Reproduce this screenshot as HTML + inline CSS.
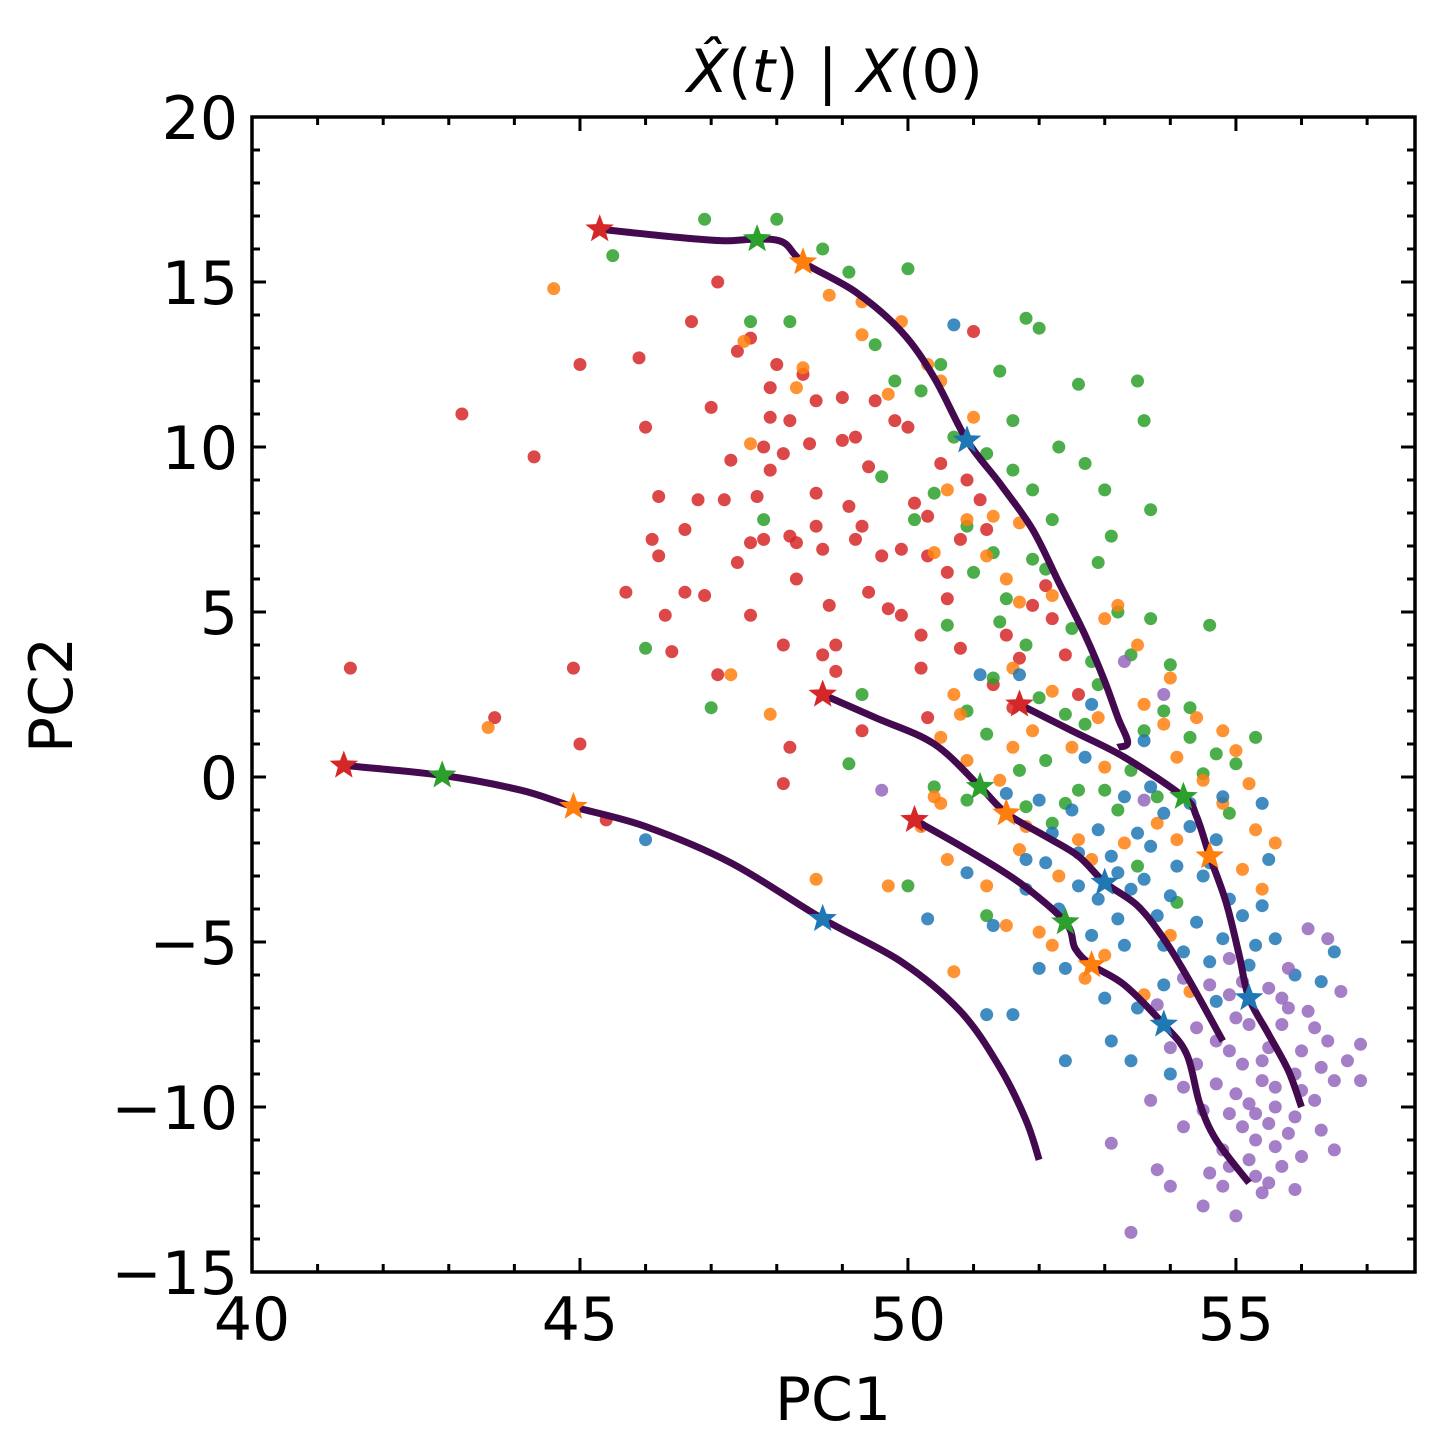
<!DOCTYPE html>
<html><head><meta charset="utf-8"><style>
body{margin:0;background:#fff;}
svg{display:block;font-family:"DejaVu Sans","Liberation Sans",sans-serif;}
</style></head><body>
<svg id="chart" width="1430" height="1450">
<g id="points"></g>
<g id="lines"></g>
<g id="stars"></g>
<rect x="252" y="117" width="1163" height="1155" fill="none" stroke="#000" stroke-width="3.5"/>
<g id="ticks"></g>
<text x="835" y="92" text-anchor="middle" font-size="60"><tspan font-style="italic">X̂</tspan>(<tspan font-style="italic">t</tspan>) | <tspan font-style="italic">X</tspan>(0)</text>
<text x="833" y="1420" text-anchor="middle" font-size="60">PC1</text>
<text x="72" y="695" text-anchor="middle" font-size="60" transform="rotate(-90 72 695)">PC2</text>
</svg>
<script>
const xTicks=[40,45,50,55];
const yTicks=[20,15,10,5,0,-5,-10,-15];
const redPts=[[41.5,3.3],[43.2,11],[44.3,9.7],[43.7,1.8],[45,12.5],[44.9,3.3],[45,1],[45.7,5.6],[45.9,12.7],[46,10.6],[46.2,8.5],[46.1,7.2],[46.2,6.7],[46.3,4.9],[46.4,3.8],[46.6,7.5],[46.7,13.8],[46.9,5.5],[47,11.2],[47.1,15],[47.2,8.4],[47.3,9.6],[47.4,12.9],[47.6,13.3],[47.6,7.1],[47.7,8.5],[47.8,10],[47.9,11.8],[47.9,10.9],[48,12.5],[48.1,9.8],[48.2,10.8],[48.2,7.3],[48.1,4],[48.3,6],[48.4,12.2],[48.5,10.1],[48.6,11.4],[48.2,0.9],[48.6,7.6],[48.8,5.2],[48.9,4],[49,10.2],[49.1,8.2],[49.2,7.2],[49.4,9.4],[49.5,11.4],[49.6,6.7],[49.7,5.1],[49.8,10.8],[50,10.6],[50.1,8.3],[50.2,4.3],[50.3,6.7],[50.5,9.5],[50.6,5.4],[50.8,7.2],[51,13.5],[51.3,2.8],[51.7,3.6],[51.9,5.2],[52.4,3.7],[52.6,2.5],[47.6,4.9],[48.9,3.2],[49.3,1.4],[50.3,1.8],[48.1,-0.2],[47.1,3.1],[46.6,5.6],[47.8,7.2],[49.2,10.3],[50.9,9],[51.2,7.5],[45.4,-1.3],[48.7,3.7],[49.4,5.6],[49.9,6.9],[50.6,6.2],[51.1,8.4],[49.9,4.9],[48.7,6.9],[49.3,7.6],[47.9,9.3],[48.3,7.1],[50.2,3.3],[51.5,4.3],[52.1,5.8],[49,11.5],[50.3,7.9],[48.6,8.6],[47.4,6.5],[46.8,8.4],[50.8,3.9],[51.6,2.1],[52.2,4.8]];
const greenPts=[[45.5,15.8],[46.9,16.9],[47.6,13.8],[48,16.9],[48.2,13.8],[48.7,16],[49.1,15.3],[49.5,13.1],[49.8,12],[50,15.4],[50.2,11.7],[50.4,8.6],[50.5,12.5],[50.7,10.3],[50.9,7.6],[51,6.2],[51.2,9.8],[51.4,12.3],[51.6,10.8],[51.8,13.9],[52,13.6],[51.6,9.3],[51.9,8.7],[52.1,6.3],[52.3,10],[52.6,11.9],[52.7,9.5],[53,8.7],[53.1,7.3],[53.5,12],[53.6,10.8],[53.7,8.1],[52.9,6.5],[52.5,4.5],[52.8,3.5],[53.2,5],[53.7,4.8],[54,3.4],[54.3,2.1],[54.6,4.6],[55.3,1.2],[51.5,5.4],[51.8,4],[51.3,3],[50.6,4.6],[50.9,2],[51.2,1.3],[52.1,0.5],[52.6,-0.4],[53.4,0.2],[54.3,1.2],[54.7,0.7],[55,0.4],[53.8,-0.6],[53.2,-1],[52.2,-1.4],[51.8,-0.9],[50.9,-0.7],[50.4,-0.3],[50,-3.3],[51.2,-4.2],[53.5,-2.7],[54.1,-3.8],[47.8,7.8],[47,2.1],[46,3.9],[49.1,0.4],[49.3,2.5],[53.9,2],[52.7,1.6],[52,2.4],[54.9,-1.1],[51.9,6.6],[52.2,7.8],[51.4,4.7],[52.9,2.8],[53.4,3.7],[52.4,1.9],[51.7,0.2],[53,-0.4],[52.4,-0.8],[53.6,1.4],[54.5,0.1],[49.6,9.1],[50.1,7.8],[51.3,6.8]];
const orangePts=[[43.6,1.5],[44.6,14.8],[47.3,3.1],[47.5,13.2],[47.6,10.1],[47.9,1.9],[48.4,12.4],[48.3,11.8],[48.8,14.6],[49.3,13.4],[49.3,14.4],[49.9,13.8],[50.3,12.5],[50.5,12],[50.6,8.7],[50.9,7.8],[51.3,7.9],[51.7,7.7],[51.2,6.7],[51.5,6],[51.7,5.3],[52.2,5.5],[53,4.8],[53.2,5.2],[53.5,4],[54,3],[53.6,2.2],[53.9,1.6],[54.4,1.8],[54.8,1.4],[55,0.8],[54.5,-0.1],[54.8,-0.8],[55.2,-0.2],[55.3,-1.6],[55.6,-2],[55.1,-2.8],[55.4,-3.4],[53.8,-1.4],[52.8,-2.5],[52.3,-3],[51.7,-2.2],[51.2,-3.3],[50.6,-2.5],[50.5,-0.8],[50.9,0.5],[51.4,-0.1],[51.9,1.4],[52.5,0.9],[53,0.3],[50.7,-5.9],[51.5,-4.5],[52.2,-5.1],[52.7,-6.1],[53,-5.4],[53.6,-6.6],[50.5,1.2],[50.7,2.5],[51.6,3.3],[52.2,2.6],[48.6,-3.1],[49.7,-3.3],[52,-4.7],[54,-4.8],[54.3,-6.5],[50.4,-0.6],[51.8,-1.5],[52.6,-1.9],[53.3,-2],[54.1,-1.9],[50.8,1.9],[51.6,0.9],[52.9,1.8],[54.1,0.6],[50.4,6.8],[51,10.9],[49.7,11.6],[50.2,-1.5]];
const bluePts=[[46,-1.9],[50.3,-4.3],[50.7,13.7],[51.7,3.1],[51.1,3.1],[52,-0.7],[52.2,-1.7],[52.5,-1],[52.6,-2.3],[52.9,-1.6],[53.1,-2.4],[53.3,-0.6],[53.5,-1.7],[53.7,-2.1],[53.9,-1.1],[54.1,-2.7],[54.3,-1.5],[54.5,-3],[54.7,-1.9],[54.9,-3.7],[55.1,-4.2],[55.3,-5.1],[55.5,-2.5],[55.6,-4.9],[55.9,-6],[56.3,-6.2],[54.2,-5.3],[54.6,-5.6],[53.8,-4.2],[53.4,-3.4],[53.2,-4.3],[52.4,-5.8],[52.4,-8.6],[53.1,-8],[53.5,-7],[53.9,-6.3],[54,-9],[52,-5.8],[51.6,-7.2],[51.2,-7.2],[51.3,-4.5],[50.9,-2.9],[51.8,-3.4],[52.7,0.6],[53.7,-0.3],[54.8,-0.6],[55.4,-0.8],[56.5,-5.3],[55.2,-5.7],[54.7,-6.8],[53.3,-5.1],[52.9,-3.7],[52.1,-2.6],[51.5,-0.5],[53.6,1.1],[52.8,2.2],[53.6,-3.1],[54,-3.6],[54.4,-4.4],[53.2,-2.9],[52.6,-3.3],[53.9,-5.1],[54.8,-4.9],[55.4,-3.9],[53,-6.7],[53.4,-8.6],[52.8,-4.8],[52.3,-4],[51.8,-2.5],[54.3,-0.8],[54.6,-2.6]];
const purplePts=[[49.6,-0.4],[53.1,-11.1],[53.4,-13.8],[53.7,-9.8],[54,-12.4],[54.2,-10.6],[54.4,-8.7],[54.5,-13],[54.6,-12],[54.8,-11.3],[54.9,-10.2],[55,-9.6],[55,-13.3],[55.1,-8.7],[55.2,-9.9],[55.3,-11],[55.4,-12.6],[55.5,-10.5],[55.5,-8.2],[55.6,-9.4],[55.7,-11.8],[55.7,-7.5],[55.8,-10.8],[55.9,-9],[56,-11.5],[56,-8.3],[56.1,-7.1],[56.2,-9.8],[56.3,-10.7],[56.4,-8],[56.5,-9.2],[56.6,-6.5],[56.7,-8.6],[56.9,-8.1],[56.9,-9.2],[56.5,-11.3],[55.2,-7.5],[54.9,-6.6],[54.7,-8],[54.4,-7.6],[54.2,-6.1],[54.9,-5.5],[55.5,-6.4],[55.8,-5.8],[56.1,-4.6],[56.4,-4.9],[53.8,-6.9],[54,-8.2],[55.3,-12.1],[55.9,-12.5],[55.6,-11.2],[54.7,-9.3],[55.8,-7],[53.3,3.5],[53.9,2.5],[53.6,-0.7],[55.1,-10.6],[55.3,-10.2],[55.4,-9.2],[55.6,-10],[55.2,-11.6],[54.8,-12.4],[55.4,-8.6],[55,-7.3],[54.6,-6.3],[55.7,-6.7],[56,-9.5],[56.3,-8.8],[55.9,-10.3],[54.9,-8.3],[54.5,-10.1],[55.1,-6.2],[53.8,-11.9],[54.2,-9.4],[56.2,-7.6],[55.5,-12.3],[54.9,-11.8]];
const line1=[[41.4,0.35],[42.9,0.05],[44.1,-0.4],[44.9,-0.9],[46,-1.5],[47.3,-2.6],[48.7,-4.3],[49.9,-5.6],[50.8,-7.1],[51.4,-8.8],[51.8,-10.4],[52,-11.6]];
const line2=[[45.3,16.6],[46.5,16.35],[47.2,16.25],[47.7,16.3],[48.1,16.2],[48.4,15.6],[49.2,14.7],[49.9,13.5],[50.4,12.1],[50.9,10.2],[51.4,8.9],[51.9,7.5],[52.3,5.9],[52.7,4.3],[53.0,2.9],[53.2,1.8],[53.35,1.05],[53.2,0.9]];
const line3=[[48.7,2.5],[49.5,1.8],[50.4,1],[51.1,-0.3],[51.5,-1.1],[52.1,-1.8],[52.6,-2.4],[53,-3.2],[53.5,-3.9],[53.9,-4.9],[54.3,-6.2],[54.8,-8]];
const line4=[[51.7,2.2],[52.5,1.4],[53.3,0.6],[54.2,-0.6],[54.4,-1.2],[54.6,-2.4],[54.85,-3.8],[55.05,-5.4],[55.2,-6.7],[55.5,-7.8],[55.8,-8.9],[56,-10]];
const line5=[[50.1,-1.3],[50.9,-2.2],[51.7,-3.2],[52.4,-4.4],[52.55,-5.2],[52.8,-5.7],[53.3,-6.3],[53.9,-7.5],[54.25,-8.4],[54.45,-9.9],[54.7,-11],[55.2,-12.3]];
const starsRed=[[41.4,0.35],[45.3,16.6],[48.7,2.5],[51.7,2.2],[50.1,-1.3]];
const starsGreen=[[42.9,0.05],[47.7,16.3],[51.1,-0.3],[54.2,-0.6],[52.4,-4.4]];
const starsOrange=[[44.9,-0.9],[48.4,15.6],[51.5,-1.1],[54.6,-2.4],[52.8,-5.7]];
const starsBlue=[[48.7,-4.3],[50.9,10.2],[53,-3.2],[55.2,-6.7],[53.9,-7.5]];

const NS='http://www.w3.org/2000/svg';
const X0=252,X1=1415,Y0=117,Y1=1272,xmin=40,xmax=57.73,ymin=-15,ymax=20;
function sx(v){return X0+(v-xmin)/(xmax-xmin)*(X1-X0);}
function sy(v){return Y1-(v-ymin)/(ymax-ymin)*(Y1-Y0);}
function mk(t,a,p){const e=document.createElementNS(NS,t);for(const k in a)e.setAttribute(k,a[k]);p.appendChild(e);return e;}
const gp=document.getElementById('points');
[[redPts,'#d62728','red'],[greenPts,'#2ca02c','green'],[orangePts,'#ff7f0e','orange'],[bluePts,'#1f77b4','blue'],[purplePts,'#9467bd','purple']].forEach(([arr,c,n])=>{
 arr.forEach(p=>{const e=mk('circle',{cx:sx(p[0]),cy:sy(p[1]),r:6.5,fill:c,'fill-opacity':0.85},gp);
 
 });
});
function smooth(L){const P=L.map(p=>[sx(p[0]),sy(p[1])]);let d='M'+P[0][0]+','+P[0][1];
 for(let i=0;i<P.length-1;i++){const p0=P[Math.max(i-1,0)],p1=P[i],p2=P[i+1],p3=P[Math.min(i+2,P.length-1)];
  const c1=[p1[0]+(p2[0]-p0[0])/6,p1[1]+(p2[1]-p0[1])/6],c2=[p2[0]-(p3[0]-p1[0])/6,p2[1]-(p3[1]-p1[1])/6];
  d+=' C'+c1[0].toFixed(1)+','+c1[1].toFixed(1)+' '+c2[0].toFixed(1)+','+c2[1].toFixed(1)+' '+p2[0].toFixed(1)+','+p2[1].toFixed(1);}
 return d;}
const gl=document.getElementById('lines');
[line1,line2,line3,line4,line5].forEach((L,i)=>{
 const e=mk('path',{d:smooth(L),fill:'none',stroke:'#440a4f','stroke-width':7,'stroke-linejoin':'round'},gl);
 
 
});
const gs=document.getElementById('stars');
function starPath(cx,cy,R){let s='';for(let i=0;i<10;i++){const r=i%2?R*0.42:R;const a=-Math.PI/2+i*Math.PI/5;s+=(i?'L':'M')+(cx+r*Math.cos(a)).toFixed(1)+','+(cy+r*Math.sin(a)).toFixed(1);}return s+'Z';}
[[starsRed,'#d62728','red'],[starsGreen,'#2ca02c','green'],[starsOrange,'#ff7f0e','orange'],[starsBlue,'#1f77b4','blue']].forEach(([arr,c,n])=>{
 arr.forEach(p=>{const e=mk('path',{d:starPath(sx(p[0]),sy(p[1]),15),fill:c},gs);
 
 });
});
const gt=document.getElementById('ticks');
for(let v=40;v<=57;v++){const x=sx(v);const L=(v%5===0)?14:8;
 mk('line',{x1:x,y1:Y1,x2:x,y2:Y1-L,stroke:'#000','stroke-width':3},gt);
 mk('line',{x1:x,y1:Y0,x2:x,y2:Y0+L,stroke:'#000','stroke-width':3},gt);}
for(let v=-15;v<=20;v++){const y=sy(v);const L=(v%5===0)?14:8;
 mk('line',{x1:X0,y1:y,x2:X0+L,y2:y,stroke:'#000','stroke-width':3},gt);
 mk('line',{x1:X1,y1:y,x2:X1-L,y2:y,stroke:'#000','stroke-width':3},gt);}
const svg=document.getElementById('chart');
xTicks.forEach(v=>{const t=mk('text',{x:sx(v),y:1340,'text-anchor':'middle','font-size':60},svg);t.textContent=String(v);
 
 });
yTicks.forEach(v=>{const t=mk('text',{x:238,y:sy(v)+22,'text-anchor':'end','font-size':60},svg);t.textContent=v<0?'\u2212'+Math.abs(v):String(v);
 
 });
</script>
</body></html>
